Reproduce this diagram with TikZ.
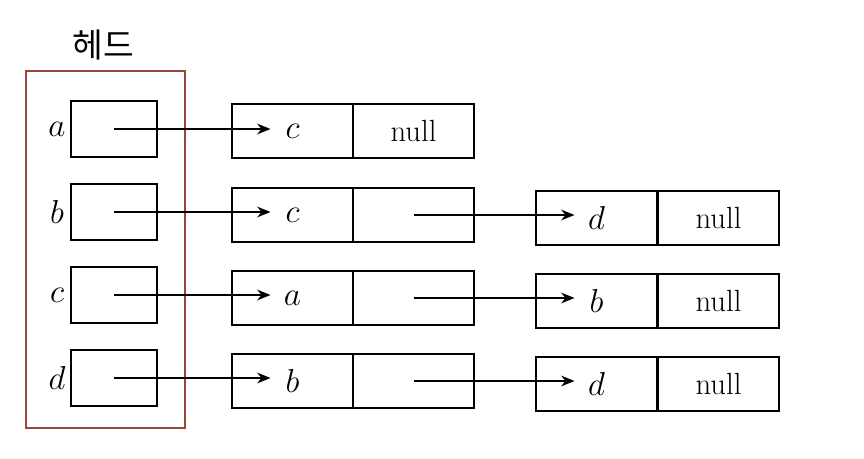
\documentclass[tikz,border=0pt]{standalone}
\usepackage{fontspec}
\newfontfamily\krfont{Noto Sans CJK KR}
\usetikzlibrary{arrows.meta}
\definecolor{headbrown}{RGB}{150,72,52}
\tikzset{
  ptrbox/.style={draw=black, line width=1.5pt, minimum width=86*0.75pt, minimum height=56*0.75pt, inner sep=0pt},
  cellbox/.style={draw=black, line width=1.5pt, minimum width=121*0.75pt, minimum height=54*0.75pt, inner sep=0pt, font=\fontsize{23}{26}\selectfont},
  lbl/.style={font=\fontsize{23}{26}\selectfont, inner sep=0pt},
  arr/.style={-{Stealth[length=10pt,width=8pt]}, line width=1.4pt},
  headbox/.style={draw=headbrown, line width=2.2pt, minimum width=159*0.75pt, minimum height=357*0.75pt, inner sep=0pt}
}
\begin{document}
\begin{tikzpicture}[x=0.75pt,y=-0.75pt]
\useasboundingbox (0,0) rectangle (864,458);
\node[font=\krfont\fontsize{25}{28}\selectfont, inner sep=0pt] (title) at (103,45) {헤드};
\node[headbox] (head) at (105.5,249.5) {};
% pointer boxes
\foreach \n/\y in {a/129,b/212,c/295,d/378}{
  \node[ptrbox] (p\n) at (114,\y) {};
  \node[lbl] (l\n) at (57,\y) {$\n$};
}
% list cells
\node[cellbox] (a1) at (292.5,131) {$c$};
\node[cellbox] (a2) at (413.5,131) {null};
\node[cellbox] (b1) at (292.5,215) {$c$};
\node[cellbox] (b2) at (413.5,215) {};
\node[cellbox] (b3) at (596.5,218) {$d$};
\node[cellbox] (b4) at (718.5,218) {null};
\node[cellbox] (c1) at (292.5,298) {$a$};
\node[cellbox] (c2) at (413.5,298) {};
\node[cellbox] (c3) at (596.5,301) {$b$};
\node[cellbox] (c4) at (718.5,301) {null};
\node[cellbox] (d1) at (292.5,381) {$b$};
\node[cellbox] (d2) at (413.5,381) {};
\node[cellbox] (d3) at (596.5,384) {$d$};
\node[cellbox] (d4) at (718.5,384) {null};
% arrows from head pointers
\draw[arr] (pa.center) -- ([xshift=-22*0.75pt]a1.center |- pa.center);
\draw[arr] (pb.center) -- ([xshift=-22*0.75pt]b1.center |- pb.center);
\draw[arr] (pc.center) -- ([xshift=-22*0.75pt]c1.center |- pc.center);
\draw[arr] (pd.center) -- ([xshift=-22*0.75pt]d1.center |- pd.center);
% arrows between cells
\draw[arr] (b2.center) -- ([xshift=-22*0.75pt]b3.center |- b2.center);
\draw[arr] (c2.center) -- ([xshift=-22*0.75pt]c3.center |- c2.center);
\draw[arr] (d2.center) -- ([xshift=-22*0.75pt]d3.center |- d2.center);
\end{tikzpicture}
\end{document}
